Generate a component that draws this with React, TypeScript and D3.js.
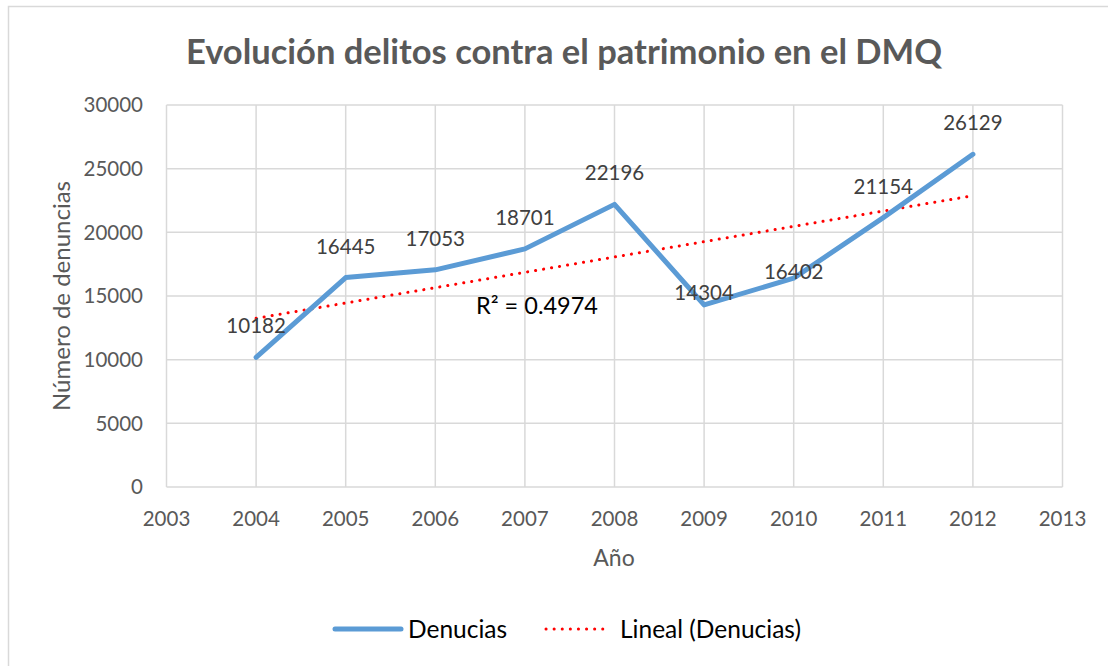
import React, { useEffect, useRef } from 'react';
import * as d3 from 'd3';

const years = [2004, 2005, 2006, 2007, 2008, 2009, 2010, 2011, 2012];
const denuncias = [10182, 16445, 17053, 18701, 22196, 14304, 16402, 21154, 26129];
const xTicks = [2003, 2004, 2005, 2006, 2007, 2008, 2009, 2010, 2011, 2012, 2013];
const yTicks = [0, 5000, 10000, 15000, 20000, 25000, 30000];
const rSquaredLabel = 'R² = 0.4974';

const W = 1108;
const H = 666;
const FONT = 'Lato, "Open Sans", sans-serif';

const App: React.FC = () => {
  const svgRef = useRef<SVGSVGElement>(null);

  useEffect(() => {
    if (!svgRef.current) return;
    const svg = d3.select(svgRef.current);
    svg.selectAll('*').remove();

    // outer chart border (runs off the right / bottom edge)
    svg.append('rect')
      .attr('x', 8.5).attr('y', 6.5)
      .attr('width', W + 20).attr('height', H + 20)
      .attr('fill', '#fff')
      .attr('stroke', '#d9d9d9')
      .attr('stroke-width', 1.5);

    const x = d3.scaleLinear().domain([2003, 2013]).range([166.5, 1062.5]);
    const y = d3.scaleLinear().domain([0, 30000]).range([487, 105]);

    // title
    svg.append('text')
      .attr('x', 564).attr('y', 64)
      .attr('text-anchor', 'middle')
      .style('font-family', FONT)
      .style('font-weight', 700)
      .style('font-size', '34.5px')
      .style('fill', '#595959')
      .text('Evolución delitos contra el patrimonio en el DMQ');

    // gridlines
    const grid = svg.append('g');
    grid.selectAll('line.h')
      .data(yTicks)
      .enter().append('line')
      .attr('x1', x(2003)).attr('x2', x(2013))
      .attr('y1', d => y(d)).attr('y2', d => y(d))
      .attr('stroke', '#d9d9d9').attr('stroke-width', 1.5);
    grid.selectAll('line.v')
      .data(xTicks)
      .enter().append('line')
      .attr('x1', d => x(d)).attr('x2', d => x(d))
      .attr('y1', y(0)).attr('y2', y(30000))
      .attr('stroke', '#d9d9d9').attr('stroke-width', 1.5);

    // tick labels
    svg.append('g').selectAll('text')
      .data(yTicks)
      .enter().append('text')
      .attr('x', 143).attr('y', d => y(d))
      .attr('dy', '0.35em')
      .attr('text-anchor', 'end')
      .style('font-family', FONT).style('font-size', '20.5px')
      .style('fill', '#595959')
      .text(d => d);
    svg.append('g').selectAll('text')
      .data(xTicks)
      .enter().append('text')
      .attr('x', d => x(d)).attr('y', 526)
      .attr('text-anchor', 'middle')
      .style('font-family', FONT).style('font-size', '20.5px')
      .style('fill', '#595959')
      .text(d => d);

    // axis titles
    svg.append('text')
      .attr('transform', 'translate(70,296) rotate(-90)')
      .attr('text-anchor', 'middle')
      .style('font-family', FONT).style('font-size', '24px')
      .style('fill', '#595959')
      .text('Número de denuncias');
    svg.append('text')
      .attr('x', 614).attr('y', 566)
      .attr('text-anchor', 'middle')
      .style('font-family', FONT).style('font-size', '23px')
      .style('fill', '#595959')
      .text('Año');

    // linear trend (least squares)
    const mx = d3.mean(years)!;
    const my = d3.mean(denuncias)!;
    const slope = d3.sum(years, (d, i) => (d - mx) * (denuncias[i] - my)) /
      d3.sum(years, d => (d - mx) ** 2);
    const fit = (yr: number) => my + slope * (yr - mx);
    const first = years[0];
    const last = years[years.length - 1];

    svg.append('line')
      .attr('x1', x(first)).attr('y1', y(fit(first)))
      .attr('x2', x(last)).attr('y2', y(fit(last)))
      .attr('stroke', '#ff0000')
      .attr('stroke-width', 3)
      .attr('stroke-linecap', 'round')
      .attr('stroke-dasharray', '0.1 8');

    // series line
    const line = d3.line<number>()
      .x((d, i) => x(years[i]))
      .y(d => y(d));
    svg.append('path')
      .datum(denuncias)
      .attr('d', line)
      .attr('fill', 'none')
      .attr('stroke', '#5b9bd5')
      .attr('stroke-width', 5)
      .attr('stroke-linejoin', 'round')
      .attr('stroke-linecap', 'round');

    // data labels (two were moved by hand in the original)
    const labelDy: Record<number, number> = { 2009: -5, 2010: 1 };
    svg.append('g').selectAll('text')
      .data(denuncias)
      .enter().append('text')
      .attr('x', (d, i) => x(years[i]))
      .attr('y', (d, i) => y(d) + (labelDy[years[i]] ?? -24))
      .attr('text-anchor', 'middle')
      .style('font-family', FONT).style('font-size', '20.5px')
      .style('fill', '#404040')
      .text(d => d);

    // R² label
    svg.append('text')
      .attr('x', 537).attr('y', 314)
      .attr('text-anchor', 'middle')
      .style('font-family', FONT).style('font-size', '23.5px')
      .style('fill', '#000')
      .text(rSquaredLabel);

    // legend
    const lg = svg.append('g');
    lg.append('line')
      .attr('x1', 335).attr('x2', 401).attr('y1', 629).attr('y2', 629)
      .attr('stroke', '#5b9bd5').attr('stroke-width', 5).attr('stroke-linecap', 'round');
    lg.append('text')
      .attr('x', 408).attr('y', 638)
      .style('font-family', FONT).style('font-size', '24.5px')
      .style('fill', '#000')
      .text('Denucias');
    lg.append('line')
      .attr('x1', 546).attr('x2', 610).attr('y1', 629).attr('y2', 629)
      .attr('stroke', '#ff0000').attr('stroke-width', 3)
      .attr('stroke-linecap', 'round').attr('stroke-dasharray', '0.1 8');
    lg.append('text')
      .attr('x', 620).attr('y', 638)
      .style('font-family', FONT).style('font-size', '24.5px')
      .style('fill', '#000')
      .text('Lineal (Denucias)');
  }, []);

  return (
    <div style={{ position: 'absolute', left: 0, top: 0, width: W, height: H, overflow: 'hidden', background: '#fff' }}>
      <svg ref={svgRef} width={W} height={H} style={{ display: 'block' }} />
    </div>
  );
};

export default App;
